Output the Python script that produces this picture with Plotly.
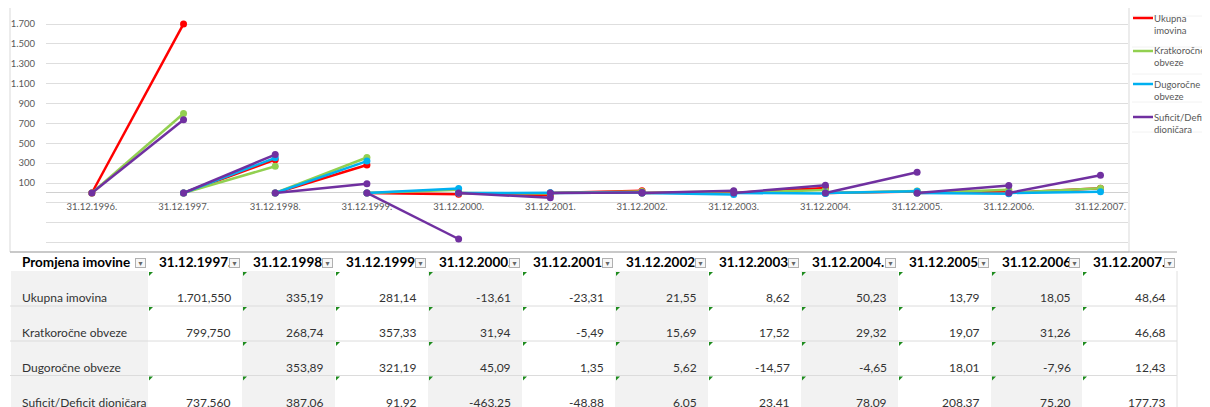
import plotly.graph_objects as go

# the page puts the figure 8px in from the top-left corner
OFF = 8
W, H = 1210 - OFF, 407 - OFF

# categories on the chart axis (first one is only the start of the first segment)
dates = ['31.12.1996.', '31.12.1997.', '31.12.1998.', '31.12.1999.', '31.12.2000.', '31.12.2001.',
         '31.12.2002.', '31.12.2003.', '31.12.2004.', '31.12.2005.', '31.12.2006.', '31.12.2007.']
table_headers = ['31.12.1997.', '31.12.1998.', '31.12.1999.', '31.12.2000.', '31.12.2001.', '31.12.2002.',
                 '31.12.2003.', '31.12.2004.', '31.12.2005.', '31.12.2006.', '31.12.2007.']

series_names = ['Ukupna imovina', 'Kratkoročne obveze', 'Dugoročne obveze', 'Suficit/Deficit dioničara']
legend_names = ['Ukupna<br>imovina', 'Kratkoročne<br>obveze', 'Dugoročne<br>obveze', 'Suficit/Deficit<br>dioničara']

ukupna_imovina = [1701.55, 335.19, 281.14, -13.61, -23.31, 21.55, 8.62, 50.23, 13.79, 18.05, 48.64]
kratkorocne_obveze = [799.75, 268.74, 357.33, 31.94, -5.49, 15.69, 17.52, 29.32, 19.07, 31.26, 46.68]
dugorocne_obveze = [None, 353.89, 321.19, 45.09, 1.35, 5.62, -14.57, -4.65, 18.01, -7.96, 12.43]
suficit_deficit = [737.56, 387.06, 91.92, -463.25, -48.88, 6.05, 23.41, 78.09, 208.37, 75.20, 177.73]

# decimals shown in the table per column
decimals = [3, 2, 2, 2, 2, 2, 2, 2, 2, 2, 2]

y_ticks = [-500, -300, -100, 100, 300, 500, 700, 900, 1100, 1300, 1500, 1700]
y_labels = ['', '', '', '100', '300', '500', '700', '900', '1.100', '1.300', '1.500', '1.700']

colors = ['#FF0000', '#92D050', '#00B0F0', '#7030A0']
all_series = [ukupna_imovina, kratkorocne_obveze, dugorocne_obveze, suficit_deficit]


def px(x):
    return (x - OFF) / W


def py(y):
    return 1 - (y - OFF) / H


def fmt(v, d):
    # Croatian number format: 1.701,550
    s = f"{v:,.{d}f}"
    return s.replace(',', 'X').replace('.', ',').replace('X', '.')


def segments(vals):
    # each change is drawn from 0 at the previous date to the value at the date
    xs, ys = [], []
    for i, v in enumerate(vals):
        if v is None:
            continue
        xs += [dates[i], dates[i + 1], None]
        ys += [0, v, None]
    return xs, ys


fig = go.Figure()
for name, vals, c in zip(series_names, all_series, colors):
    xs, ys = segments(vals)
    fig.add_trace(go.Scatter(
        x=xs, y=ys, name=name, mode='lines+markers',
        line=dict(color=c, width=2.5), marker=dict(size=7, color=c),
        showlegend=False, hoverinfo='skip'
    ))

# y mapping of the plot area
y_min, y_max = -574, 1862
dom = [py(250), py(8)]
zero_pos = dom[0] + (0 - y_min) / (y_max - y_min) * (dom[1] - dom[0])

axis_font = dict(family='Lato', size=9.5, color='#595959')

# ---- table geometry
col_edges = [10, 148, 242, 335, 428, 522, 615, 708, 801, 898, 991, 1082, 1177]
row_tops = [271, 306, 341, 375.5]
grey = '#f2f2f2'

shapes = []
annotations = []

# chart frame
shapes.append(dict(type='rect', xref='paper', yref='paper', x0=px(10), x1=px(1129), y0=py(252), y1=py(7),
                   line=dict(color='#d9d9d9', width=1)))

# legend faint separators
for yy in [16, 47, 74, 102, 132]:
    shapes.append(dict(type='line', xref='paper', yref='paper', x0=px(1132), x1=px(1210), y0=py(yy), y1=py(yy),
                       line=dict(color='#f2f2f2', width=1)))

# legend
for i, (lname, c) in enumerate(zip(legend_names, colors)):
    ly = 18 + i * 33
    shapes.append(dict(type='line', xref='paper', yref='paper', x0=px(1133), x1=px(1153), y0=py(ly), y1=py(ly),
                       line=dict(color=c, width=2.5)))
    annotations.append(dict(xref='paper', yref='paper', x=px(1152), y=py(ly + 6), xanchor='left', yanchor='middle',
                            text=lname, showarrow=False, align='left',
                            font=dict(family='Lato', size=9.5, color='#595959')))

# column fills
shapes.append(dict(type='rect', xref='paper', yref='paper', x0=px(11), x1=px(col_edges[1]), y0=py(407), y1=py(271),
                   fillcolor=grey, line=dict(width=0), layer='below'))
for j in range(len(table_headers)):
    if j % 2 == 1:
        shapes.append(dict(type='rect', xref='paper', yref='paper', x0=px(col_edges[j + 1]), x1=px(col_edges[j + 2]),
                           y0=py(407), y1=py(271), fillcolor=grey, line=dict(width=0), layer='below'))

# row separators
for rt in row_tops[1:]:
    shapes.append(dict(type='line', xref='paper', yref='paper', x0=px(10), x1=px(1177), y0=py(rt), y1=py(rt),
                       line=dict(color='#dcdcdc', width=1)))
shapes.append(dict(type='line', xref='paper', yref='paper', x0=px(1177), x1=px(1177), y0=py(271), y1=py(407),
                   line=dict(color='#e0e0e0', width=1)))
# header top line
shapes.append(dict(type='line', xref='paper', yref='paper', x0=px(10), x1=px(1177), y0=py(252), y1=py(252),
                   line=dict(color='#a6a6a6', width=1)))

# header texts
header_font = dict(family='Lato', size=13.5, color='#000000', weight='bold')
annotations.append(dict(xref='paper', yref='paper', x=px(20), y=py(262), xanchor='left', yanchor='middle',
                        text='Promjena imovine', showarrow=False, font=header_font))
for j, h in enumerate(table_headers):
    annotations.append(dict(xref='paper', yref='paper', x=px(col_edges[j + 1] + 9), y=py(262), xanchor='left',
                            yanchor='middle', text=h, showarrow=False, font=header_font))

# dropdown buttons
for j in range(len(col_edges) - 1):
    annotations.append(dict(xref='paper', yref='paper', x=px(col_edges[j + 1] - 7.5), y=py(263), xanchor='center',
                            yanchor='middle', text='▾', showarrow=False, width=9, height=8, borderpad=0,
                            bgcolor='#f7f7f7', bordercolor='#b0b0b0', borderwidth=1,
                            font=dict(family='DejaVu Sans', size=8, color='#666666')))

# rows
cell_font = dict(family='Lato', size=12, color='#333333')
for r, (name, vals) in enumerate(zip(series_names, all_series)):
    ty = row_tops[r] + 26.5
    annotations.append(dict(xref='paper', yref='paper', x=px(20), y=py(ty), xanchor='left', yanchor='middle',
                            text=name, showarrow=False, font=cell_font))
    for j, v in enumerate(vals):
        if v is None:
            continue
        right = col_edges[j + 2]
        annotations.append(dict(xref='paper', yref='paper', x=px(right - 9), y=py(ty), xanchor='right',
                                yanchor='middle', text=fmt(v, decimals[j]), showarrow=False, font=cell_font))
        x0, y0 = col_edges[j + 1] + 1, row_tops[r] + 1
        shapes.append(dict(type='path', xref='paper', yref='paper',
                           path=f"M {px(x0)} {py(y0)} L {px(x0 + 4)} {py(y0)} L {px(x0)} {py(y0 + 4)} Z",
                           fillcolor='#1e8c1e', line=dict(width=0)))

fig.update_layout(
    width=W, height=H,
    margin=dict(l=0, r=0, t=0, b=0),
    paper_bgcolor='white', plot_bgcolor='white',
    showlegend=False,
    xaxis=dict(type='category', categoryorder='array', categoryarray=dates, range=[-0.5, 11.3],
               domain=[px(46), px(1128)], anchor='free', position=zero_pos,
               showgrid=False, showline=False, zeroline=False, ticks='',
               tickfont=axis_font, ticklabelstandoff=7),
    yaxis=dict(range=[y_min, y_max], domain=dom, tickvals=y_ticks, ticktext=y_labels,
               showgrid=True, gridcolor='#dedede', gridwidth=1,
               zeroline=True, zerolinecolor='#d0d0d0', zerolinewidth=1,
               showline=False, ticks='', tickfont=axis_font, ticklabelstandoff=10),
    shapes=shapes,
    annotations=annotations,
)

fig.write_html("out.html")
